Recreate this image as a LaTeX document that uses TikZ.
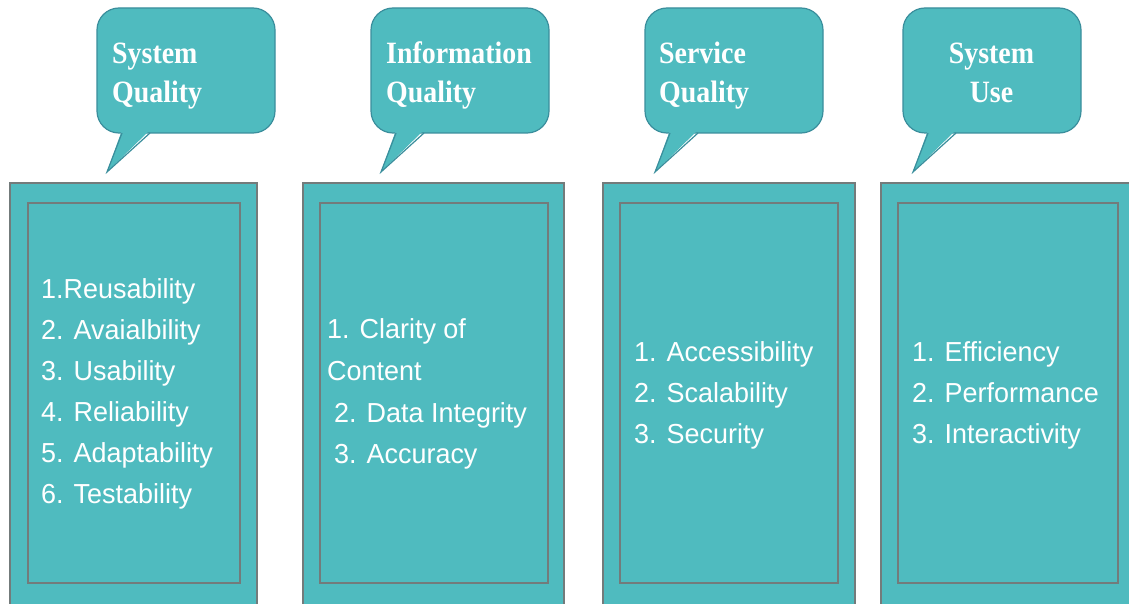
\documentclass[tikz,border=0pt]{standalone}
\usepackage{fontspec}
\setmainfont{Liberation Serif}
\newfontfamily\bubfont{Liberation Serif}[FakeStretch=0.9]
\newfontfamily\listfont{Liberation Sans}[FakeStretch=0.98]
\definecolor{tealfill}{HTML}{4FBBBF}
\definecolor{boxline}{HTML}{737B7B}
\definecolor{bubline}{HTML}{3A8E9C}
\tikzset{
  outerbox/.style={fill=tealfill, draw=boxline, line width=2pt},
  innerbox/.style={draw=boxline, line width=2pt},
  bubblebody/.style={fill=tealfill, draw=bubline, line width=1.2pt, rounded corners=22pt},
  bubbletail/.style={fill=tealfill},
  tailedge/.style={draw=bubline, line width=1.2pt, line join=miter},
  bubtext/.style={font=\bubfont\fontsize{31}{40}\selectfont\bfseries, text=white, inner sep=0pt, anchor=base west},
  listtext/.style={font=\listfont\fontsize{27.5}{41}\selectfont, text=white, inner sep=0pt, anchor=base west}
}
\newcommand{\mybubble}[1]{%
  \draw[bubblebody] (#1,8) rectangle ++(178,125);
  \fill[bubbletail] (#1+25,130) -- (#1+10,172) -- (#1+53,130) -- cycle;
  \draw[tailedge] (#1+25,133) -- (#1+10,172) -- (#1+53,133);
}
\begin{document}
\begin{tikzpicture}[x=1pt,y=-1pt]
\useasboundingbox (0,0) rectangle (1129,604);
\fill[white] (0,0) rectangle (1129,604);

% ---------- bubbles ----------
\mybubble{97}
\mybubble{371}
\mybubble{645}
\mybubble{903}

\node[bubtext] (b1a) at (112,64) {System};
\node[bubtext] (b1b) at (112,103) {Quality};
\node[bubtext] (b2a) at (386,64) {Information};
\node[bubtext] (b2b) at (386,103) {Quality};
\node[bubtext] (b3a) at (659,64) {Service};
\node[bubtext] (b3b) at (659,103) {Quality};
\node[bubtext, anchor=base] (b4a) at (991.5,64) {System};
\node[bubtext, anchor=base] (b4b) at (991.5,103) {Use};

% ---------- boxes ----------
\draw[outerbox] (10,183) rectangle (257,620);
\draw[innerbox] (28,203) rectangle (240,583);
\draw[outerbox] (303,183) rectangle (564,620);
\draw[innerbox] (320,203) rectangle (548,583);
\draw[outerbox] (603,183) rectangle (855,620);
\draw[innerbox] (620,203) rectangle (838,583);
\draw[outerbox] (881,183) rectangle (1145,620);
\draw[innerbox] (898,203) rectangle (1118,583);

% ---------- lists ----------
\node[listtext] (c1l1) at (41,298) {1.Reusability};
\node[listtext] (c1l2) at (41,339) {2. Avaialbility};
\node[listtext] (c1l3) at (41,380) {3. Usability};
\node[listtext] (c1l4) at (41,421) {4. Reliability};
\node[listtext] (c1l5) at (41,462) {5. Adaptability};
\node[listtext] (c1l6) at (41,503) {6. Testability};

\node[listtext] (c2l1) at (327,338) {1. Clarity of};
\node[listtext] (c2l2) at (327,380) {Content};
\node[listtext] (c2l3) at (334,422) {2. Data Integrity};
\node[listtext] (c2l4) at (334,463) {3. Accuracy};

\node[listtext] (c3l1) at (634,361) {1. Accessibility};
\node[listtext] (c3l2) at (634,402) {2. Scalability};
\node[listtext] (c3l3) at (634,443) {3. Security};

\node[listtext] (c4l1) at (912,361) {1. Efficiency};
\node[listtext] (c4l2) at (912,402) {2. Performance};
\node[listtext] (c4l3) at (912,443) {3. Interactivity};
\end{tikzpicture}
\end{document}
